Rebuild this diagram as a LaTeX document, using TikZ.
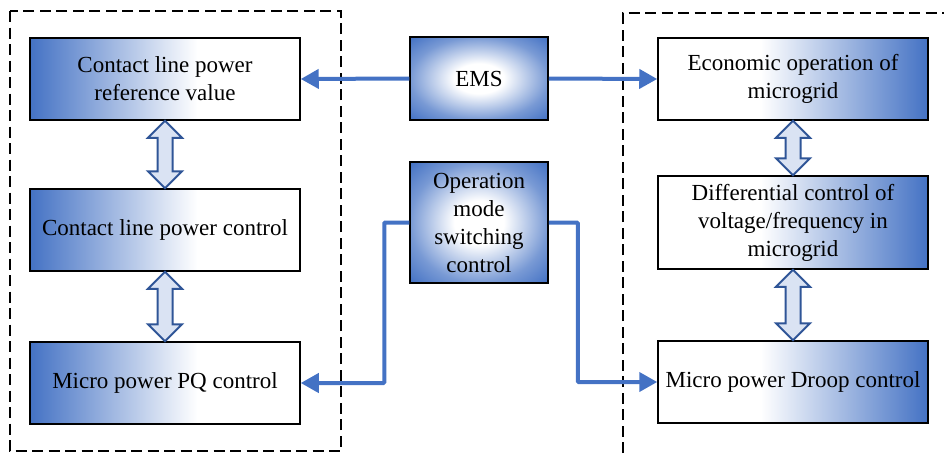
\documentclass[tikz,border=0pt]{standalone}
\usepackage{fontspec}
\setmainfont{Liberation Serif}
\usetikzlibrary{arrows.meta,calc}
\definecolor{gb}{HTML}{4472C4}
\definecolor{darrfill}{HTML}{DAE3F3}
\definecolor{darrline}{HTML}{2F5597}
\pgfdeclarehorizontalshading{lshade}{100bp}{color(0bp)=(gb); color(25bp)=(gb); color(56bp)=(white); color(100bp)=(white)}
\pgfdeclarehorizontalshading{rshade}{100bp}{color(0bp)=(white); color(44bp)=(white); color(75bp)=(gb); color(100bp)=(gb)}
\pgfdeclareradialshading{cshade}{\pgfpoint{0bp}{0bp}}{color(0bp)=(white); color(9bp)=(white); color(25bp)=(gb!72); color(35bp)=(gb); color(50bp)=(gb)}
\newcommand\vdarrow[2]{%
 \path[darr] let \p1=(#1.south), \p2=(#2.north) in
 (\x1,\y1) -- (\x1+17pt,\y1-17pt) -- (\x1+7.5pt,\y1-17pt) -- (\x1+7.5pt,\y2+17pt)
 -- (\x1+17pt,\y2+17pt) -- (\x1,\y2) -- (\x1-17pt,\y2+17pt) -- (\x1-7.5pt,\y2+17pt)
 -- (\x1-7.5pt,\y1-17pt) -- (\x1-17pt,\y1-17pt) -- cycle;}
\tikzset{
 box/.style={draw=black, line width=1.5pt, minimum width=270pt, minimum height=82pt, align=center, inner sep=0pt, font=\fontsize{23}{28}\selectfont},
 lbox/.style={box, shade, shading=lshade},
 rbox/.style={box, shade, shading=rshade},
 cbox/.style={box, shade, shading=cshade, minimum width=138pt},
 conn/.style={draw=gb, line width=4pt, -{Triangle[length=18pt,width=19pt]}},
 darr/.style={draw=darrline, fill=darrfill, line width=2pt, line join=miter},
 dashbox/.style={draw=black, line width=1.6pt, dash pattern=on 11pt off 5.5pt}
}
\begin{document}
\begin{tikzpicture}[x=1pt,y=-1pt]
\useasboundingbox (0,0) rectangle (944,453);
\draw[dashbox] (10,11) rectangle (341,451);
\draw[dashbox] (623,453) -- (623,13) -- (944,13);
\node[lbox] (l1) at (165,79) {Contact line power\\reference value};
\node[lbox] (l2) at (165,230) {Contact line power control};
\node[lbox] (l3) at (165,383) {Micro power PQ control};
\node[cbox, minimum height=83pt] (ems) at (479,78.5) {EMS};
\node[cbox, minimum height=121pt] (op) at (479,222.5) {Operation\\mode\\switching\\control};
\node[rbox] (r1) at (793,79) {Economic operation of\\microgrid};
\node[rbox, minimum height=93pt] (r2) at (793,222.5) {Differential control of\\voltage/frequency in\\microgrid};
\node[rbox] (r3) at (793,382) {Micro power Droop control};
\draw[conn] (ems.west) -- (l1.east);
\draw[conn] (ems.east) -- (r1.west);
\draw[conn, rounded corners=1pt] (op.west) -- ++(-25,0) |- (l3.east);
\draw[conn, rounded corners=1pt] (op.east) -- ++(29,0) |- (r3.west);
\vdarrow{l1}{l2}
\vdarrow{l2}{l3}
\vdarrow{r1}{r2}
\vdarrow{r2}{r3}
\end{tikzpicture}
\end{document}
